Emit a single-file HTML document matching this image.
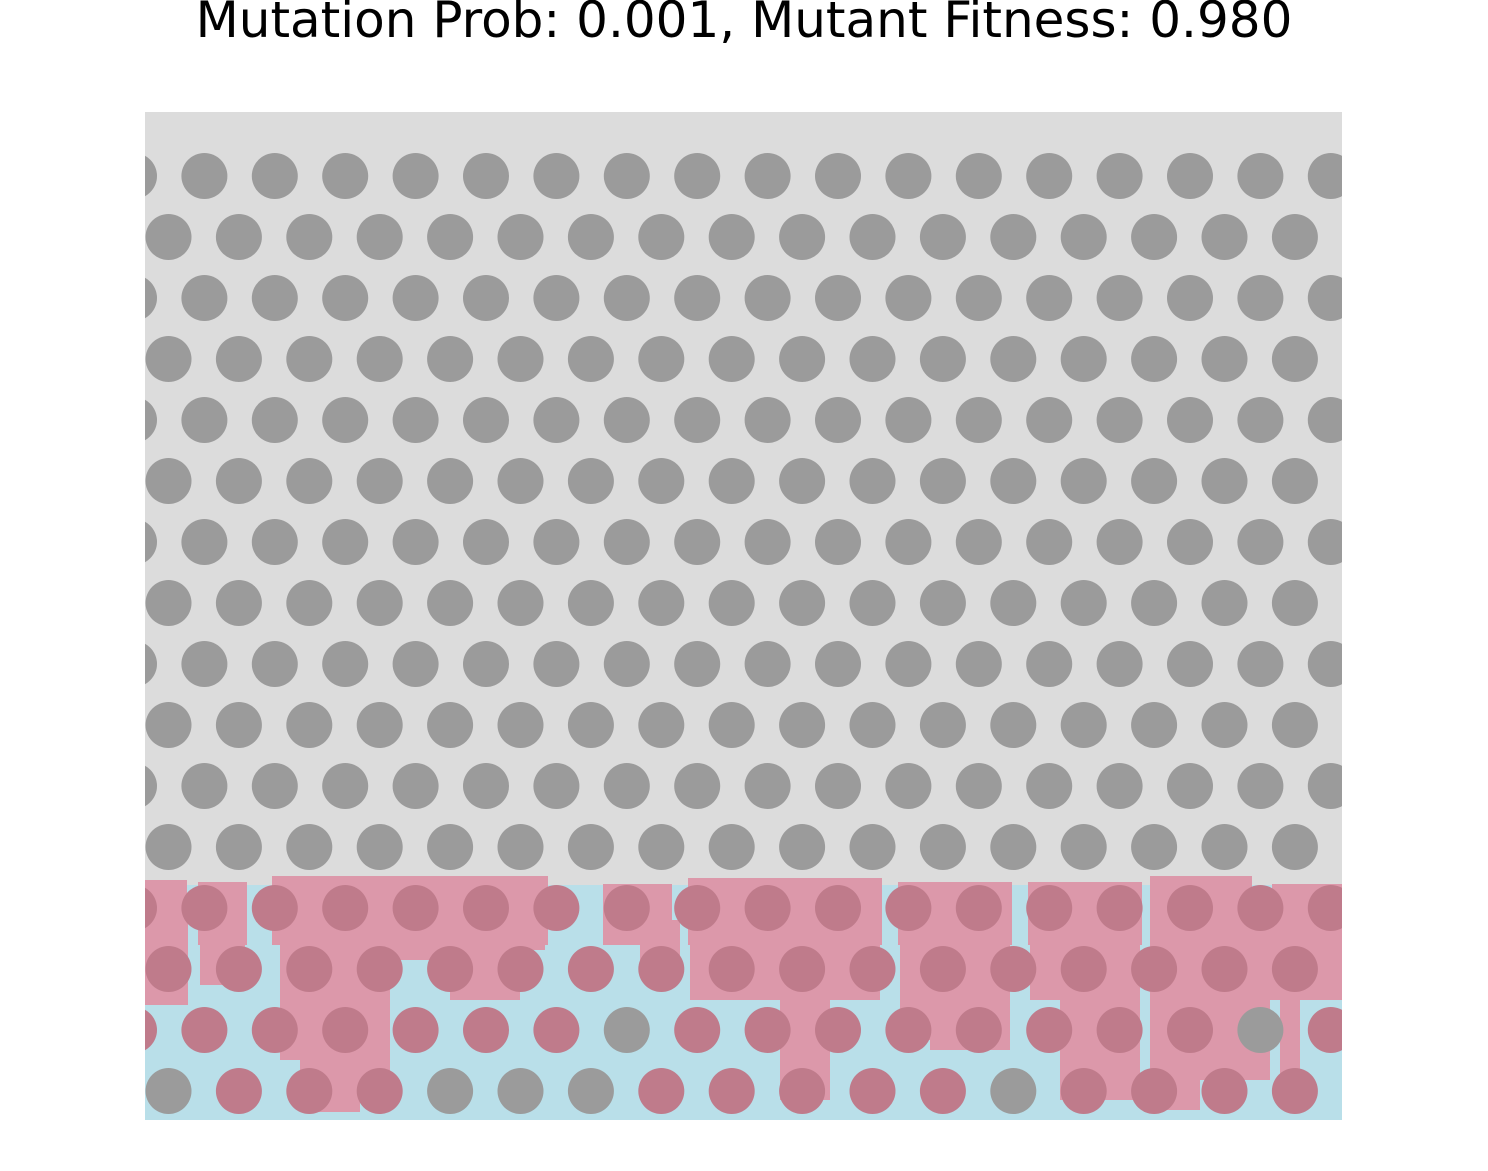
<!DOCTYPE html>
<html><head><meta charset="utf-8"><style>
html,body{margin:0;padding:0;background:#fff;width:1488px;height:1171px;overflow:hidden}
#title{position:absolute;left:0;width:1488px;top:-9px;text-align:center;font:50px "DejaVu Sans",sans-serif;color:#000;white-space:nowrap}
svg{position:absolute;left:0;top:0}
</style></head><body>
<div id="title">Mutation Prob: 0.001, Mutant Fitness: 0.980</div>
<svg id="plot" width="1488" height="1171">
<defs><clipPath id="c"><rect x="145" y="112" width="1197" height="1008"/></clipPath></defs>
<g clip-path="url(#c)">
<rect x="145" y="112" width="1197" height="1008" fill="#dcdcdc"/>
<rect x="145" y="885" width="1197" height="235" fill="#b9dfe9"/>
<g id="pink" fill="#dc98aa"></g>
<g id="circles"></g>
</g>
</svg>
<script>
// mutant band segments: [x0, x1, yTop]
const pinkTop = [[145,187,880],[198,247,882],[272,548,876],[603,672,884],[688,882,878],[898,1012,882],[1028,1142,882],[1150,1252,876],[1272,1342,884]];
// mutant fingers: [x0, x1, yBottom]
const pinkCols = [[145,188,1005],[200,245,985],[280,300,1060],[300,360,1112],[360,390,1080],[390,450,960],[450,520,1000],[520,545,950],[605,645,935],[640,680,960],[690,780,1000],[780,830,1100],[830,880,1000],[900,930,1040],[930,1010,1050],[1030,1060,1000],[1060,1140,1100],[1150,1200,1110],[1200,1270,1080],[1270,1342,1000],[1280,1300,1100]];
// circle states per row for bottom rows (1 = mutant, 0 = wild)
const row12 = [1,1,1,1,1,1,1,1,1,1,1,1,1,1,1,1,1,1];
const row13 = [1,1,1,1,1,1,1,1,1,1,1,1,1,1,1,1,1,1];
const row14 = [1,1,1,1,1,1,1,0,1,1,1,1,1,1,1,1,0,1];
const row15 = [0,1,1,1,0,0,0,1,1,1,1,1,0,1,1,1,1,1];
const NS="http://www.w3.org/2000/svg";
const pk=document.getElementById('pink');
function addRect(x0,x1,top,bot){
  const r=document.createElementNS(NS,'rect');
  
  
  r.setAttribute('x',x0);r.setAttribute('y',top);r.setAttribute('width',x1-x0);r.setAttribute('height',bot-top);
  pk.appendChild(r);
}
pinkTop.forEach(p=>addRect(p[0],p[1],p[2],945));
pinkCols.forEach(p=>addRect(p[0],p[1],920,p[2]));
const cg=document.getElementById('circles');
const states={12:row12,13:row13,14:row14,15:row15};
for(let row=0;row<16;row++){
  const y=176+row*61;
  const even=row%2===0;
  const x0=even?134:168.5;
  for(let i=0;i<18;i++){
    const x=x0+i*70.4;
    const st=states[row]?(states[row][i]!==undefined?states[row][i]:1):0;
    const c=document.createElementNS(NS,'circle');
    
    
    c.setAttribute('cx',x);c.setAttribute('cy',y);c.setAttribute('r',23);
    c.setAttribute('fill',st?'#bf7b8b':'#9b9b9b');
    cg.appendChild(c);
  }
}
</script>
</body></html>
